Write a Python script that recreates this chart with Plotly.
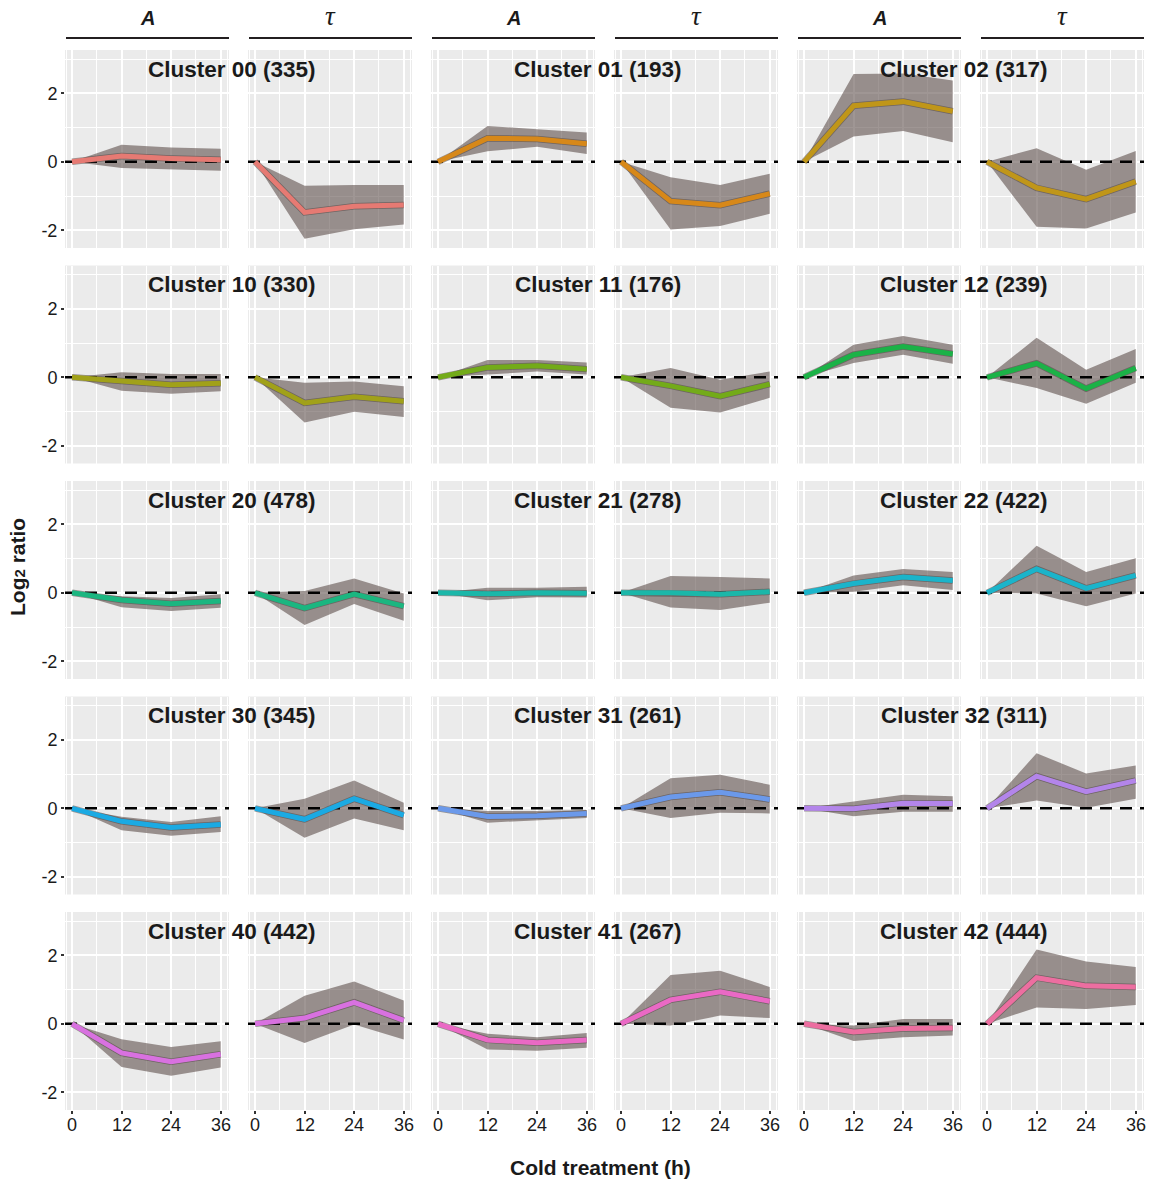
import plotly.graph_objects as go

W, H = 1152, 1180

# ---------------- data ----------------
time_h = [0, 12, 24, 36]
x_tick_vals = [0, 12, 24, 36]
y_tick_vals = [-2, 0, 2]
y_tick_text = ["-2", "0", "2"]
facet_labels = ["<b><i>A</i></b>", "<i>τ</i>"]

cluster_ids = ["00", "01", "02", "10", "11", "12", "20", "21", "22",
               "30", "31", "32", "40", "41", "42"]
cluster_sizes = [335, 193, 317, 330, 176, 239, 478, 278, 422,
                 345, 261, 311, 442, 267, 444]
cluster_colors = ["#F8766D", "#E58700", "#C99800", "#A3A500", "#6BB100",
                  "#00BA38", "#00BF7D", "#00C0AF", "#00BCD8", "#00B0F6",
                  "#619CFF", "#B983FF", "#E76BF3", "#FD61D1", "#FF67A4"]

# A panel: mean / low / high ; T (tau) panel: mean / low / high
c00_A_mean = [0, 0.17, 0.10, 0.06]
c00_A_low = [0, -0.18, -0.23, -0.26]
c00_A_high = [0, 0.50, 0.42, 0.38]
c00_T_mean = [0, -1.48, -1.30, -1.26]
c00_T_low = [0, -2.25, -1.97, -1.83]
c00_T_high = [0, -0.70, -0.68, -0.68]

c01_A_mean = [0, 0.69, 0.67, 0.53]
c01_A_low = [0, 0.31, 0.44, 0.23]
c01_A_high = [0, 1.05, 0.95, 0.86]
c01_T_mean = [0, -1.15, -1.27, -0.93]
c01_T_low = [0, -1.98, -1.88, -1.52]
c01_T_high = [0, -0.45, -0.68, -0.35]

c02_A_mean = [0, 1.64, 1.76, 1.48]
c02_A_low = [0, 0.74, 0.90, 0.57]
c02_A_high = [0, 2.57, 2.58, 2.38]
c02_T_mean = [0, -0.76, -1.09, -0.58]
c02_T_low = [0, -1.90, -1.95, -1.48]
c02_T_high = [0, 0.40, -0.23, 0.32]

c10_A_mean = [0, -0.12, -0.22, -0.17]
c10_A_low = [0, -0.39, -0.48, -0.41]
c10_A_high = [0, 0.15, 0.10, 0.10]
c10_T_mean = [0, -0.75, -0.57, -0.70]
c10_T_low = [0, -1.32, -1.01, -1.16]
c10_T_high = [0, -0.16, -0.12, -0.26]

c11_A_mean = [0, 0.29, 0.34, 0.24]
c11_A_low = [0, 0.08, 0.17, 0.08]
c11_A_high = [0, 0.51, 0.51, 0.43]
c11_T_mean = [0, -0.25, -0.55, -0.20]
c11_T_low = [0, -0.89, -1.03, -0.60]
c11_T_high = [0, 0.27, -0.07, 0.17]

c12_A_mean = [0, 0.66, 0.90, 0.68]
c12_A_low = [0, 0.42, 0.66, 0.40]
c12_A_high = [0, 0.95, 1.21, 0.95]
c12_T_mean = [0, 0.41, -0.33, 0.27]
c12_T_low = [0, -0.31, -0.77, -0.16]
c12_T_high = [0, 1.16, 0.22, 0.83]

c20_A_mean = [0, -0.21, -0.32, -0.24]
c20_A_low = [0, -0.42, -0.53, -0.44]
c20_A_high = [0, -0.10, -0.15, -0.04]
c20_T_mean = [0, -0.45, -0.04, -0.39]
c20_T_low = [0, -0.94, -0.33, -0.82]
c20_T_high = [0, 0.05, 0.42, -0.02]

c21_A_mean = [0, -0.03, 0.00, -0.01]
c21_A_low = [0, -0.22, -0.13, -0.14]
c21_A_high = [0, 0.15, 0.15, 0.18]
c21_T_mean = [0, 0.00, -0.04, 0.03]
c21_T_low = [0, -0.43, -0.50, -0.29]
c21_T_high = [0, 0.49, 0.46, 0.42]

c22_A_mean = [0, 0.27, 0.46, 0.36]
c22_A_low = [0, 0.03, 0.22, 0.08]
c22_A_high = [0, 0.51, 0.70, 0.61]
c22_T_mean = [0, 0.70, 0.13, 0.51]
c22_T_low = [0, -0.02, -0.39, -0.02]
c22_T_high = [0, 1.38, 0.61, 1.01]

c30_A_mean = [0, -0.38, -0.56, -0.47]
c30_A_low = [0, -0.64, -0.80, -0.69]
c30_A_high = [0, -0.25, -0.40, -0.23]
c30_T_mean = [0, -0.32, 0.28, -0.20]
c30_T_low = [0, -0.86, -0.30, -0.64]
c30_T_high = [0, 0.28, 0.81, 0.16]

c31_A_mean = [0, -0.24, -0.22, -0.15]
c31_A_low = [0, -0.42, -0.36, -0.28]
c31_A_high = [0, -0.08, -0.08, -0.05]
c31_T_mean = [0, 0.33, 0.47, 0.26]
c31_T_low = [0, -0.28, -0.13, -0.15]
c31_T_high = [0, 0.88, 0.98, 0.69]

c32_A_mean = [0, -0.01, 0.15, 0.14]
c32_A_low = [0, -0.23, -0.10, -0.10]
c32_A_high = [0, 0.20, 0.40, 0.35]
c32_T_mean = [0, 0.94, 0.49, 0.81]
c32_T_low = [0, 0.23, 0.02, 0.28]
c32_T_high = [0, 1.61, 1.02, 1.25]

c40_A_mean = [0, -0.85, -1.11, -0.89]
c40_A_low = [0, -1.26, -1.52, -1.28]
c40_A_high = [0, -0.45, -0.68, -0.51]
c40_T_mean = [0, 0.17, 0.63, 0.10]
c40_T_low = [0, -0.56, -0.02, -0.46]
c40_T_high = [0, 0.82, 1.24, 0.68]

c41_A_mean = [0, -0.47, -0.55, -0.47]
c41_A_low = [0, -0.75, -0.79, -0.70]
c41_A_high = [0, -0.29, -0.39, -0.27]
c41_T_mean = [0, 0.70, 0.94, 0.66]
c41_T_low = [0, -0.05, 0.24, 0.17]
c41_T_high = [0, 1.43, 1.55, 1.08]

c42_A_mean = [0, -0.24, -0.14, -0.12]
c42_A_low = [0, -0.50, -0.39, -0.34]
c42_A_high = [0, -0.05, 0.14, 0.14]
c42_T_mean = [0, 1.35, 1.11, 1.08]
c42_T_low = [0, 0.48, 0.43, 0.55]
c42_T_high = [0, 2.17, 1.82, 1.66]

g = globals()
series = {}
for cid in cluster_ids:
    series[cid] = {
        "A": (g[f"c{cid}_A_mean"], g[f"c{cid}_A_low"], g[f"c{cid}_A_high"]),
        "T": (g[f"c{cid}_T_mean"], g[f"c{cid}_T_low"], g[f"c{cid}_T_high"]),
    }

# ---------------- layout geometry (pixels) ----------------
PANEL_W = 164
PANEL_H = 198
COL_LEFT = [65 + 183 * k for k in range(6)]
ROW_TOP = [50 + 215.5 * r for r in range(5)]
X_RANGE = [-1.7, 38.0]
Y_RANGE = [-2.52, 3.27]

FONT = "Liberation Sans, Arial, sans-serif"
RIBBON = "rgba(95,80,77,0.6)"
TXT = "#1a1a1a"


def muted(hex_color, amount=0.18, base=(150, 142, 140)):
    h = hex_color.lstrip("#")
    rgb = [int(h[i:i + 2], 16) for i in (0, 2, 4)]
    mixed = [round(c * (1 - amount) + b * amount) for c, b in zip(rgb, base)]
    return "rgb({},{},{})".format(*mixed)


def px_x(p):
    return p / W


def px_y(p):
    return 1 - p / H


fig = go.Figure()
layout = dict(
    width=W, height=H, autosize=False,
    margin=dict(l=0, r=0, t=0, b=0),
    paper_bgcolor="white", plot_bgcolor="#EBEBEB",
    showlegend=False,
    font=dict(family=FONT, color=TXT),
)
annotations = []
shapes = []

for r in range(5):
    for k in range(6):
        idx = r * 6 + k + 1
        sfx = "" if idx == 1 else str(idx)
        left = COL_LEFT[k]
        top = ROW_TOP[r]
        layout[f"xaxis{sfx}"] = dict(
            domain=[px_x(left), px_x(left + PANEL_W)],
            anchor=f"y{sfx}", range=X_RANGE,
            tickvals=x_tick_vals, showticklabels=False,
            ticks="outside" if r == 4 else "",
            ticklen=3, tickwidth=1.5, tickcolor="#333",
            showgrid=True, gridcolor="white", gridwidth=1.6,
            zeroline=False, showline=False, fixedrange=True,
            minor=dict(tickvals=[-1.3, 6, 18, 30, 37.6], showgrid=True,
                       gridcolor="white", gridwidth=1.1, ticks=""),
        )
        layout[f"yaxis{sfx}"] = dict(
            domain=[px_y(top + PANEL_H), px_y(top)],
            anchor=f"x{sfx}", range=Y_RANGE,
            tickvals=y_tick_vals, ticktext=y_tick_text,
            showticklabels=(k == 0), ticks="outside" if k == 0 else "",
            ticklen=3, tickwidth=1.5, tickcolor="#333",
            tickfont=dict(size=18, family=FONT, color=TXT),
            showgrid=True, gridcolor="white", gridwidth=1.6,
            zeroline=False, showline=False, fixedrange=True,
            minor=dict(tickvals=[-1, 1, 3], showgrid=True,
                       gridcolor="white", gridwidth=1.1, ticks=""),
        )

        ci = r * 3 + k // 2
        cid = cluster_ids[ci]
        color = muted(cluster_colors[ci])
        mean, low, high = series[cid]["A" if k % 2 == 0 else "T"]
        xa, ya = f"x{sfx}", f"y{sfx}"

        fig.add_trace(go.Scatter(
            x=time_h + time_h[::-1], y=high + low[::-1],
            fill="toself", fillcolor=RIBBON, line=dict(width=0),
            mode="lines", hoverinfo="skip", xaxis=xa, yaxis=ya))
        fig.add_trace(go.Scatter(
            x=X_RANGE, y=[0, 0], mode="lines",
            line=dict(color="black", width=2.5, dash="12px,8px"),
            hoverinfo="skip", xaxis=xa, yaxis=ya))
        fig.add_trace(go.Scatter(
            x=time_h, y=mean, mode="lines",
            line=dict(color="rgba(70,60,58,0.5)", width=6.5),
            hoverinfo="skip", xaxis=xa, yaxis=ya))
        fig.add_trace(go.Scatter(
            x=time_h, y=mean, mode="lines",
            line=dict(color=color, width=5),
            xaxis=xa, yaxis=ya))

        # x tick labels (bottom row), placed just under the tick marks
        if r == 4:
            for v in x_tick_vals:
                annotations.append(dict(
                    text=str(v), xref=xa, yref=f"{ya} domain",
                    x=v, y=0, xanchor="center", yanchor="top", yshift=-3,
                    showarrow=False,
                    font=dict(size=18, family=FONT, color=TXT)))

        # strip on top row
        if r == 0:
            shapes.append(dict(
                type="line", xref="paper", yref="paper",
                x0=px_x(left + 1), x1=px_x(left + PANEL_W), y0=px_y(38), y1=px_y(38),
                line=dict(color="#231F20", width=2)))
            annotations.append(dict(
                text=facet_labels[k % 2], xref="paper", yref="paper",
                x=px_x(left + PANEL_W / 2), y=px_y(18 if k % 2 == 0 else 16),
                xanchor="center", yanchor="middle", showarrow=False,
                font=dict(size=20 if k % 2 == 0 else 27,
                          family=FONT if k % 2 == 0 else "Liberation Serif, serif",
                          color=TXT)))

        # cluster title centred over each A/tau pair
        if k % 2 == 0:
            cx = (left + COL_LEFT[k + 1] + PANEL_W) / 2 - 7
            annotations.append(dict(
                text=f"<b>Cluster {cid} ({cluster_sizes[ci]})</b>",
                xref="paper", yref="paper", x=px_x(cx), y=px_y(top + 19),
                xanchor="center", yanchor="middle", showarrow=False,
                font=dict(size=22.5, family=FONT, color=TXT)))

annotations.append(dict(
    text="<b>Cold treatment (h)</b>", xref="paper", yref="paper",
    x=px_x(600), y=px_y(1167), xanchor="center", yanchor="middle",
    showarrow=False, font=dict(size=21, family=FONT, color=TXT)))
annotations.append(dict(
    text="<b>Log<span style='font-size:15px'>2</span> ratio</b>",
    xref="paper", yref="paper", x=px_x(18), y=px_y(567),
    xanchor="center", yanchor="middle", textangle=-90,
    showarrow=False, font=dict(size=21, family=FONT, color=TXT)))

layout["annotations"] = annotations
layout["shapes"] = shapes
fig.update_layout(**layout)
fig.write_html("out.html")
